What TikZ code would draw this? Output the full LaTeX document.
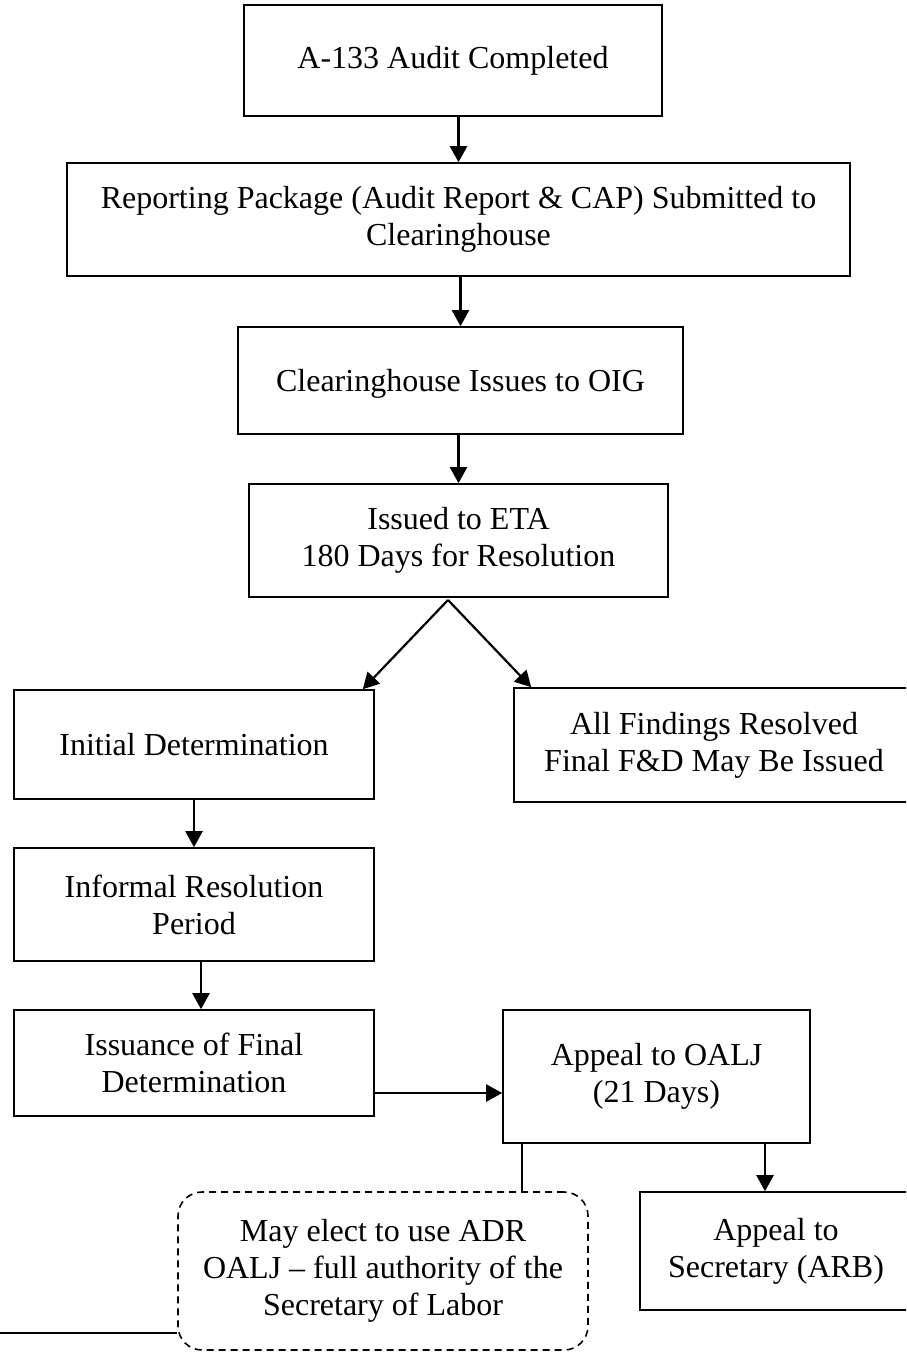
\documentclass[tikz,border=0pt]{standalone}
\usepackage{fontspec}
\setmainfont{Liberation Serif}
\usetikzlibrary{arrows.meta}

\tikzset{
  stage/.style={draw, line width=0.8pt, align=center, inner sep=0pt},
  adrbox/.style={draw, dash pattern=on 3.5pt off 2.5pt, line width=0.8pt, rounded corners=12pt, align=center, inner sep=0pt},
  arr/.style={line width=1.1pt, -{Triangle[length=8pt,width=8.5pt]}},
  plain/.style={line width=1.1pt}
}

\begin{document}
\begin{tikzpicture}[x=0.5pt,y=-0.5pt,font=\fontsize{16}{18.5}\selectfont]
                \useasboundingbox (0,0) rectangle (906,1352);
                \clip (0,0) rectangle (906,1352);

                \node [stage, minimum width=209pt, minimum height=55.5pt] (audit) at (453,60.5) {A-133 Audit Completed};
                \node [stage, minimum width=391.5pt, minimum height=56.5pt] (package) at (458.5,219.5) {Reporting Package (Audit Report \& CAP) Submitted to\\Clearinghouse};
                \node [stage, minimum width=222.5pt, minimum height=53.5pt, text depth=-2pt] (clearing) at (460.5,380.5) {Clearinghouse Issues to OIG};
                \node [stage, minimum width=209.5pt, minimum height=56.5pt] (eta) at (458.5,540.5) {Issued to ETA\\180 Days for Resolution};

                \node [stage, minimum width=180pt, minimum height=54.5pt] (initial) at (194,744.5) {Initial Determination};
                \node [stage, minimum width=200pt, minimum height=57pt] (resolved) at (714,745) {All Findings Resolved\\Final F\&D May Be Issued};
                \node [stage, minimum width=180pt, minimum height=56.5pt] (informal) at (194,904.5) {Informal Resolution\\Period};
                \node [stage, minimum width=180pt, minimum height=53pt] (issuance) at (194,1063) {Issuance of Final\\Determination};

                \node [stage, minimum width=153.5pt, minimum height=66.5pt] (oalj) at (656.5,1076.5) {Appeal to OALJ\\(21 Days)};
                \node [stage, minimum width=136pt, minimum height=59pt] (arb) at (776,1251) {Appeal to\\Secretary (ARB)};
                \node [adrbox, minimum width=205pt, minimum height=79pt] (adr) at (383,1271) {May elect to use ADR\\OALJ -- full authority of the\\Secretary of Labor};

                \coordinate (split) at (448,600);
                \coordinate (edge) at (0,1333);

                \draw [arr] (package.north |- audit.south) -- (package.north);
                \draw [arr] (clearing.north |- package.south) -- (clearing.north);
                \draw [arr] (eta.north |- clearing.south) -- (eta.north);
                \draw [arr] (split) -- ([xshift=-6pt]initial.north east);
                \draw [arr] (split) -- ([xshift=9pt]resolved.north west);
                \draw [arr] (informal.north |- initial.south) -- (informal.north);
                \draw [arr] ([xshift=3.5pt]issuance.north |- informal.south) -- ([xshift=3.5pt]issuance.north);
                \draw [arr] ([yshift=-15pt]issuance.east) -- ([yshift=-15pt]issuance.east -| oalj.west);
                \draw [arr] ([xshift=-5.5pt]arb.north |- oalj.south) -- ([xshift=-5.5pt]arb.north);
                \draw [plain] ([xshift=10pt]oalj.south west) -- ([xshift=10pt]oalj.south west |- adr.north);
                \draw [plain] (edge) -- (edge -| adr.west);
            \end{tikzpicture}
\end{document}
